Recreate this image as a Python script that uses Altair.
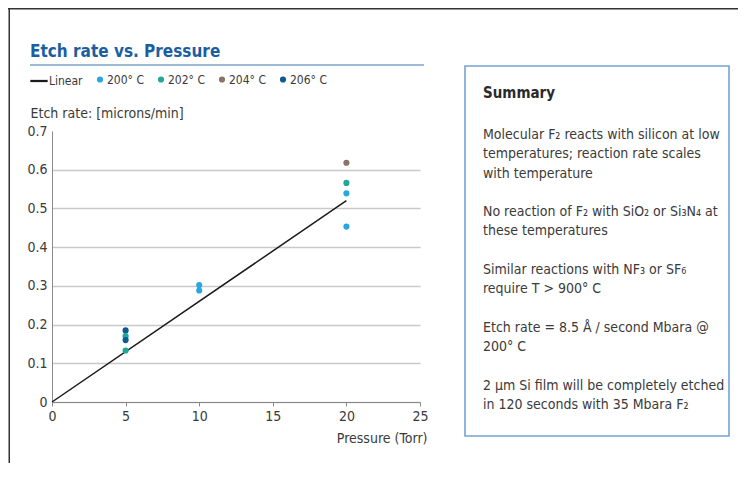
import altair as alt
import pandas as pd

FONT = "Liberation Sans Narrow, DejaVu Sans Condensed, Roboto Condensed, Roboto, sans-serif"

TITLE = "Etch rate vs. Pressure"
Y_TITLE = "Etch rate: [microns/min]"
X_TITLE = "Pressure (Torr)"

SERIES = ["Linear", "200\u00b0 C", "202\u00b0 C", "204\u00b0 C", "206\u00b0 C"]
SERIES_COLORS = ["#1a1a1a", "#2aa7df", "#1fa89a", "#8b7367", "#0b5b92"]

LINE_X = [0, 20]
LINE_Y = [0.0, 0.52]

PT_SERIES = ["206\u00b0 C", "202\u00b0 C", "206\u00b0 C", "202\u00b0 C",
             "200\u00b0 C", "200\u00b0 C",
             "204\u00b0 C", "202\u00b0 C", "200\u00b0 C", "200\u00b0 C"]
PT_X = [5, 5, 5, 5, 10, 10, 20, 20, 20, 20]
PT_Y = [0.185, 0.170, 0.160, 0.133, 0.302, 0.288, 0.618, 0.566, 0.539, 0.453]

X_TICKS = [0, 5, 10, 15, 20, 25]
Y_TICKS = [0, 0.1, 0.2, 0.3, 0.4, 0.5, 0.6, 0.7]

SUMMARY_HEAD = "Summary"
SUMMARY_PARAGRAPHS = [
    ["Molecular F\u2082 reacts with silicon at low",
     "temperatures; reaction rate scales",
     "with temperature"],
    ["No reaction of F\u2082 with SiO\u2082 or Si\u2083N\u2084 at",
     "these temperatures"],
    ["Similar reactions with NF\u2083 or SF\u2086",
     "require T > 900\u00b0 C"],
    ["Etch rate = 8.5 \u00c5 / second Mbara @",
     "200\u00b0 C"],
    ["2 \u00b5m Si film will be completely etched",
     "in 120 seconds with 35 Mbara F\u2082"],
]

TEXT_COLOR = "#3a3a3a"
AXIS_COLOR = "#8a8a8a"
LINE_H = 19.3

line_df = pd.DataFrame({"p": LINE_X, "r": LINE_Y})
pt_df = pd.DataFrame({"p": PT_X, "r": PT_Y, "s": PT_SERIES})
one = pd.DataFrame({"k": [0]})

x_scale = alt.Scale(domain=[0, 25], nice=False, zero=True)
y_scale = alt.Scale(domain=[0, 0.7], nice=False, zero=True)

x_axis = alt.Axis(
    values=X_TICKS, format="d", grid=False, labelOverlap=False, labelFlush=False,
    domainColor=AXIS_COLOR, domainWidth=1, tickColor=AXIS_COLOR, tickSize=4, tickWidth=1,
    labelFont=FONT, labelFontSize=14, labelColor=TEXT_COLOR, labelPadding=3,
    title=X_TITLE, titleFont=FONT, titleFontSize=14, titleFontWeight="normal",
    titleColor=TEXT_COLOR, titleAngle=0, titleAlign="right", titleBaseline="alphabetic",
    titleX=375, titleY=40,
)
y_axis = alt.Axis(
    values=Y_TICKS, format=".1~f", grid=True, labelOverlap=False, labelFlush=False,
    gridColor={"condition": {"test": "datum.value > 0.65", "value": "transparent"}, "value": "#c9c9c9"},
    gridWidth=1.3,
    domainColor=AXIS_COLOR, domainWidth=1, ticks=False, tickSize=0,
    labelFont=FONT, labelFontSize=14, labelColor=TEXT_COLOR, labelPadding=5,
    title=Y_TITLE, titleFont=FONT, titleFontSize=14, titleFontWeight="normal",
    titleColor=TEXT_COLOR, titleAngle=0, titleAlign="left", titleBaseline="alphabetic",
    titleX=-22, titleY=-14,
)

legend = alt.Legend(
    orient="none", legendX=-22, legendY=-59, direction="horizontal", title=None,
    labelFont=FONT, labelFontSize=12, labelColor=TEXT_COLOR, labelOffset=1,
    columnPadding=11, symbolStrokeWidth=0,
)

line = alt.Chart(line_df).mark_line().encode(
    x=alt.X("p:Q", scale=x_scale, axis=x_axis),
    y=alt.Y("r:Q", scale=y_scale, axis=y_axis),
    stroke=alt.value("#1a1a1a"),
    strokeWidth=alt.value(1.5),
)

points = alt.Chart(pt_df).mark_point(filled=True, opacity=1).encode(
    x=alt.X("p:Q", scale=x_scale, axis=x_axis),
    y=alt.Y("r:Q", scale=y_scale, axis=y_axis),
    color=alt.Color("s:N", scale=alt.Scale(domain=SERIES, range=SERIES_COLORS), legend=legend),
    shape=alt.Shape("s:N", scale=alt.Scale(domain=SERIES, range=["M-1,-0.13H1V0.13H-1Z", "circle", "circle", "circle", "circle"]), legend=legend),
    size=alt.Size("s:N", scale=alt.Scale(type="ordinal", domain=SERIES, range=[300, 38, 38, 38, 38]), legend=legend),
)

title = alt.Chart(one).mark_text(
    align="left", baseline="alphabetic", font=FONT, fontSize=17, fontWeight="bold", color="#1b5e9f"
).encode(x=alt.value(-22), y=alt.value(-74), text=alt.value(TITLE))

underline = alt.Chart(one).mark_rule(color="#3a74b0", strokeWidth=1).encode(
    x=alt.value(-22), x2=alt.value(372), y=alt.value(-66)
)

frame_top = alt.Chart(one).mark_rule(color="#333333", strokeWidth=1.5).encode(
    x=alt.value(-44), x2=alt.value(686), y=alt.value(-122.25)
)
frame_left = alt.Chart(one).mark_rule(color="#333333", strokeWidth=1.5).encode(
    x=alt.value(-42.75), y=alt.value(-123), y2=alt.value(332)
)

box = alt.Chart(one).mark_rect(fill="white", stroke="#74a3d4", strokeWidth=1.6).encode(
    x=alt.value(413), x2=alt.value(677), y=alt.value(-65), y2=alt.value(305)
)

summary_head = alt.Chart(one).mark_text(
    align="left", baseline="alphabetic", font=FONT, fontSize=15, fontWeight="bold", color="#2a2a2a"
).encode(x=alt.value(431), y=alt.value(-33), text=alt.value(SUMMARY_HEAD))

summary_layers = []
line_index = 0
for para in SUMMARY_PARAGRAPHS:
    summary_layers.append(
        alt.Chart(one).mark_text(
            align="left", baseline="alphabetic", font=FONT, fontSize=14, lineHeight=LINE_H, color=TEXT_COLOR
        ).encode(x=alt.value(431), y=alt.value(8 + line_index * LINE_H), text=alt.value(para))
    )
    line_index += len(para) + 1

chart = alt.layer(
    frame_top, frame_left, title, underline, box, summary_head, *summary_layers, line, points
).properties(
    width=368, height=271,
    autosize=alt.AutoSizeParams(type="none"),
    padding={"left": 44, "top": 123, "right": 318, "bottom": 61},
).configure(font=FONT).configure_view(strokeWidth=0)

chart.save("out.html", embed_options={"renderer": "svg", "actions": False})
